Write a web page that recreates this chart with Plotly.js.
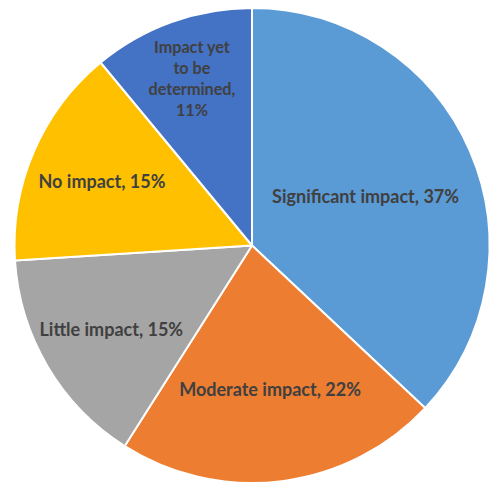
<!DOCTYPE html>
<html>
<head>
<meta charset="utf-8">
<script src="https://cdn.plot.ly/plotly-3.0.1.min.js"></script>
<style>html,body{margin:0;padding:0;background:#fff;}#chart{width:501px;height:484px;}</style>
</head>
<body>
<div id="chart"></div>
<script>
var categories = ["Significant impact", "Moderate impact", "Little impact", "No impact", "Impact yet to be determined"];
var values = [37, 22, 15, 15, 11];
var displayLabels = ["Significant impact, 37%", "Moderate impact, 22%", "Little impact, 15%", "No impact, 15%", "Impact yet<br>to be<br>determined,<br>11%"];
var colors = ["#5B9BD5", "#ED7D31", "#A5A5A5", "#FFC000", "#4472C4"];

var trace = {
  type: "pie",
  labels: categories,
  values: values,
  text: displayLabels,
  textinfo: "text",
  textposition: "inside",
  insidetextorientation: "horizontal",
  sort: false,
  direction: "clockwise",
  rotation: 0,
  marker: {colors: colors, line: {color: "#ffffff", width: 2}},
  textfont: {family: "Lato, 'Open Sans', sans-serif", size: 18, color: "#404040", weight: "bold"},
  hoverinfo: "none",
  domain: {x: [12/501, 492/501], y: [1/484, 476/484]}
};

var layout = {
  width: 501, height: 484,
  margin: {l: 0, r: 0, t: 0, b: 0},
  showlegend: false,
  paper_bgcolor: "#ffffff"
};

Plotly.newPlot("chart", [trace], layout, {displayModeBar: false, staticPlot: true});
</script>
</body>
</html>
